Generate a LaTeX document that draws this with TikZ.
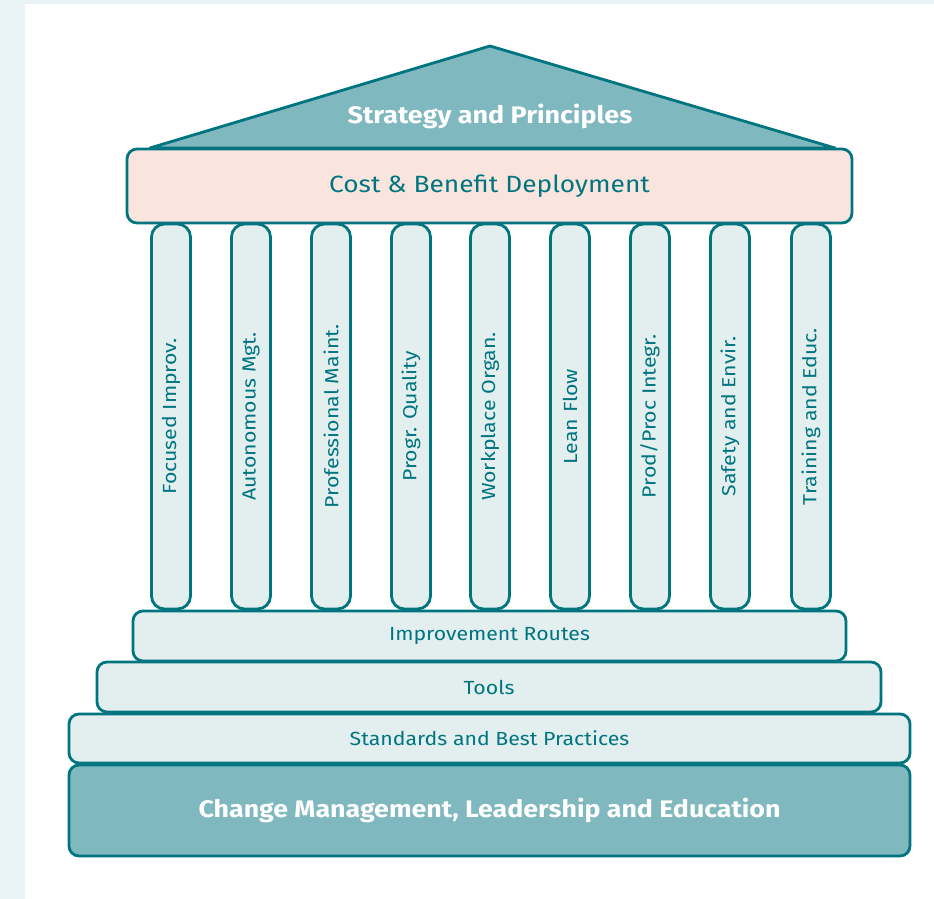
\documentclass[tikz,border=0pt]{standalone}
\usepackage{fontspec}
\setmainfont{Fira Sans}[FakeStretch=1.12]
\usetikzlibrary{positioning}

\definecolor{tealline}{HTML}{007580}
\definecolor{tealfill}{HTML}{80B8BF}
\definecolor{palefill}{HTML}{E3EFEF}
\definecolor{pinkfill}{HTML}{FAE4DE}
\definecolor{pagebg}{HTML}{EAF4F7}

\begin{document}
\begin{tikzpicture}[x=1pt, y=-1pt, line width=2.8pt,
	block/.style = {draw=tealline, rounded corners=10pt, inner sep=0pt, text=tealline, font=\fontsize{19}{22}\selectfont},
	slab/.style = {block, fill=palefill},
	pillar/.style = {block, fill=palefill, rounded corners=13pt, minimum width=39pt, minimum height=385pt},
	pilltext/.style = {rotate=90, text=tealline, font=\fontsize{19}{22}\selectfont}]
	% page
	\fill[pagebg] (0,0) rectangle (934,899);
	\fill[white] (25,4) rectangle (934,899);
	\useasboundingbox (0,0) rectangle (934,899);

	% roof
	\coordinate (rl) at (150,148);
	\coordinate (top) at (490,46);
	\coordinate (rr) at (835,148);
	\draw[tealline, fill=tealfill, line join=round] (rl) -- (top) -- (rr) -- cycle;
	\node[text=white, font=\bfseries\fontsize{24}{28}\selectfont] (strategy) at (490,116) {Strategy and Principles};

	% beam
	\node[block, fill=pinkfill, minimum width=725pt, minimum height=74pt, font=\fontsize{23.5}{28}\selectfont] (cost) at (489.5,186) {Cost \& Benefit Deployment};

	% pillars
	\node[pillar] (p1) at (171,416.5) {};
	\node[pillar] (p2) at (251,416.5) {};
	\node[pillar] (p3) at (331,416.5) {};
	\node[pillar] (p4) at (411,416.5) {};
	\node[pillar] (p5) at (490,416.5) {};
	\node[pillar] (p6) at (570,416.5) {};
	\node[pillar] (p7) at (650,416.5) {};
	\node[pillar] (p8) at (730,416.5) {};
	\node[pillar] (p9) at (811,416.5) {};
	\node[pilltext] at (p1) {Focused Improv.};
	\node[pilltext] at (p2) {Autonomous Mgt.};
	\node[pilltext] at (p3) {Professional Maint.};
	\node[pilltext] at (p4) {Progr. Quality};
	\node[pilltext] at (p5) {Workplace Organ.};
	\node[pilltext] at (p6) {Lean Flow};
	\node[pilltext] at (p7) {Prod/Proc Integr.};
	\node[pilltext] at (p8) {Safety and Envir.};
	\node[pilltext] at (p9) {Training and Educ.};

	% steps
	\node[slab, minimum width=713pt, minimum height=50pt] (routes) at (489.5,636) {Improvement Routes};
	\node[slab, minimum width=784pt, minimum height=50pt] (tools) at (489,687) {Tools};
	\node[slab, minimum width=841pt, minimum height=49pt] (standards) at (489.5,738.5) {Standards and Best Practices};
	\node[block, fill=tealfill, minimum width=841pt, minimum height=91pt, text=white, font=\bfseries\fontsize{23.9}{28}\selectfont] (change) at (489.5,810.5) {Change Management, Leadership and Education};
\end{tikzpicture}
\end{document}
